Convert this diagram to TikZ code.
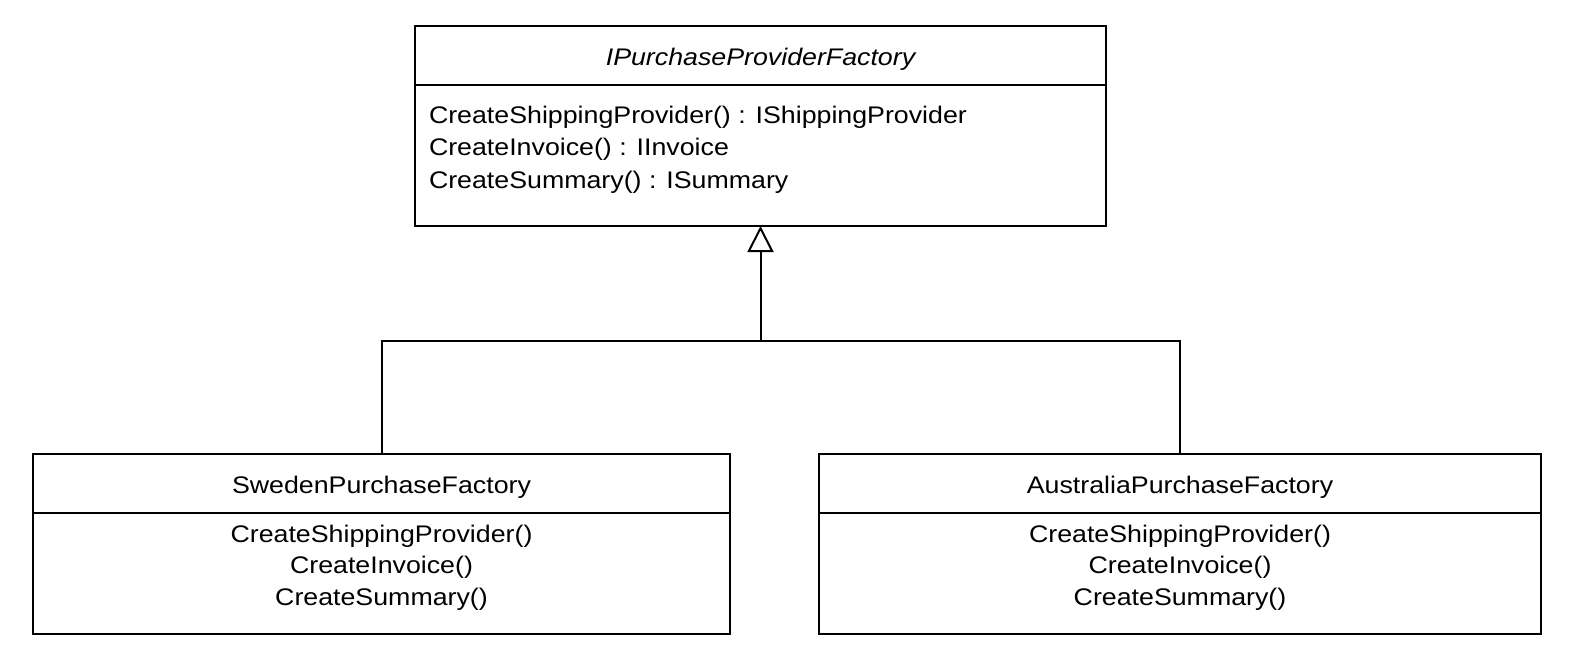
\documentclass[tikz,border=0pt]{standalone}
\usepackage{fontspec}
\setmainfont{Liberation Sans}[FakeStretch=1.115]
\usetikzlibrary{arrows.meta}
\begin{document}
\begin{tikzpicture}[x=0.5pt,y=-0.5pt,
  part/.style={draw=black, line width=1pt, inner sep=0pt, outer sep=0pt, rectangle},
  umltext/.style={font=\fontsize{12}{16.2}\selectfont, inner sep=0pt, outer sep=0pt},
  optext/.style={font=\fontsize{12}{15.6}\selectfont, inner sep=0pt, outer sep=0pt},
  inherit/.style={-{Triangle[open,length=13pt,width=13pt,line width=1pt]}, line width=1pt},
  link/.style={line width=1pt}]
\useasboundingbox (0,0) rectangle (1571,655);
% interface
\node[part, minimum width=345.5pt, minimum height=29.5pt] (ihead) at (760.5,55.5) {};
\node[part, minimum width=345.5pt, minimum height=70.5pt, anchor=north] (ibody) at (ihead.south) {};
\node[umltext, anchor=base] (ititle) at (760.5,65) {\itshape IPurchaseProviderFactory};
\node[umltext, anchor=base west, align=left] (iops) at (429,188)
  {CreateShippingProvider() : IShippingProvider\\CreateInvoice() : IInvoice\\CreateSummary() : ISummary};
% Sweden
\node[part, minimum width=348.5pt, minimum height=29.5pt] (shead) at (381.5,483) {};
\node[part, minimum width=348.5pt, minimum height=60.5pt, anchor=north] (sbody) at (shead.south) {};
\node[umltext, anchor=base] (stitle) at (381.5,493) {SwedenPurchaseFactory};
\node[optext, anchor=base, align=center] (sops) at (381.5,605)
  {CreateShippingProvider()\\CreateInvoice()\\CreateSummary()};
% Australia
\node[part, minimum width=361pt, minimum height=29.5pt] (ahead) at (1180,483) {};
\node[part, minimum width=361pt, minimum height=60.5pt, anchor=north] (abody) at (ahead.south) {};
\node[umltext, anchor=base] (atitle) at (1180,493) {AustraliaPurchaseFactory};
\node[optext, anchor=base, align=center] (aops) at (1180,605)
  {CreateShippingProvider()\\CreateInvoice()\\CreateSummary()};
% connectors
\coordinate (j) at (760.5,341);
\draw[link] (shead.north) |- (j) -| (ahead.north);
\draw[inherit] (j) -- (ibody.south);
\end{tikzpicture}
\end{document}
